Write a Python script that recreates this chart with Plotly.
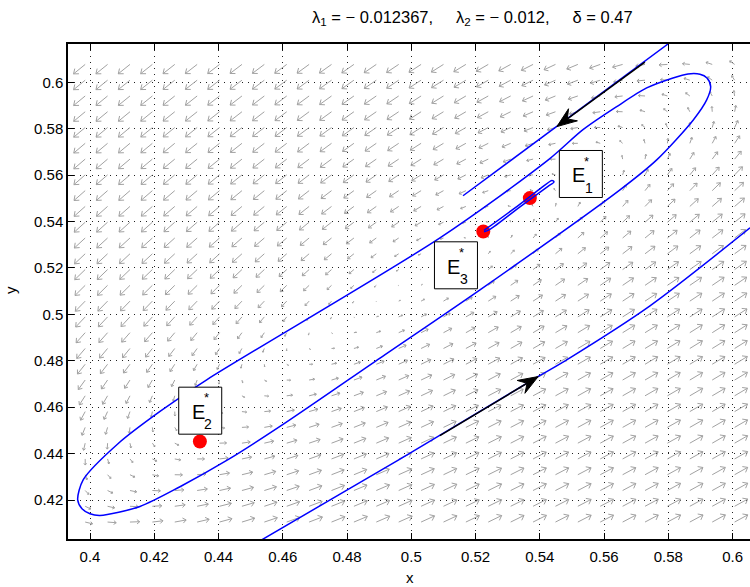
import numpy as np
import plotly.graph_objects as go

# ---- model parameters (shown in the title) ----
lambda_1 = -0.012367
lambda_2 = -0.012
delta = 0.47

# ---- equilibria ----
eq_names = ["1", "2", "3"]
eq_x = [0.5369, 0.4342, 0.5224]
eq_y = [0.5501, 0.4452, 0.5357]

# ---- trajectories ----
orbit_x = [0.39617, 0.39751, 0.40000, 0.40311, 0.41556, 0.42801, 0.44295, 0.45913,
           0.49026, 0.52138, 0.56495, 0.57638, 0.58777, 0.59194, 0.59318, 0.59203,
           0.58985, 0.58612, 0.58145, 0.57327, 0.56393, 0.55344, 0.54264, 0.50893,
           0.43632, 0.42179, 0.40871, 0.39791, 0.39617]
orbit_y = [0.42013, 0.41625, 0.41410, 0.41337, 0.41724, 0.42573, 0.43736, 0.45170,
           0.48115, 0.51057, 0.55364, 0.56656, 0.58378, 0.59240, 0.59812, 0.60187,
           0.60346, 0.60359, 0.60187, 0.59756, 0.58951, 0.57957, 0.56656, 0.53296,
           0.47181, 0.45816, 0.44425, 0.42875, 0.42013]

upper_x = [0.5161, 0.5453, 0.5799]
upper_y = [0.5511, 0.5809, 0.6165]

lower_x = [0.45353, 0.49648, 0.53953, 0.54837, 0.57429, 0.60542]
lower_y = [0.40290, 0.43766, 0.47323, 0.48042, 0.50368, 0.53727]

loop_x = [0.52263, 0.53228, 0.54006, 0.54379, 0.54441, 0.54255, 0.53383, 0.52450, 0.52263]
loop_y = [0.53619, 0.54588, 0.55406, 0.55773, 0.55708, 0.55514, 0.54631, 0.53662, 0.53555]

# direction arrows drawn on the two open trajectories (tail -> head)
flow_tail_x = [0.5089, 0.5727]
flow_tail_y = [0.4477, 0.6087]
flow_head_x = [0.5395, 0.5453]
flow_head_y = [0.4732, 0.5809]

# ---- axes ----
x_range = [0.393153, 0.60542]
y_range = [0.4032, 0.6165]
x_ticks = [0.40, 0.42, 0.44, 0.46, 0.48, 0.50, 0.52, 0.54, 0.56, 0.58, 0.60]
x_tick_text = ["0.4", "0.42", "0.44", "0.46", "0.48", "0.5", "0.52", "0.54", "0.56", "0.58", "0.6"]
y_ticks = [0.42, 0.44, 0.46, 0.48, 0.50, 0.52, 0.54, 0.56, 0.58, 0.60]
y_tick_text = ["0.42", "0.44", "0.46", "0.48", "0.5", "0.52", "0.54", "0.56", "0.58", "0.6"]

# ---- page geometry ----
W, H = 750, 587
ML, MR, MT, MB = 68, 0, 44, 48
PW, PH = W - ML - MR, H - MT - MB
PX_X = PW / (x_range[1] - x_range[0])   # pixels per x unit
PX_Y = PH / (y_range[1] - y_range[0])   # pixels per y unit


def paper_x(px):
    return (px - ML) / PW


def paper_y(py):
    return (H - MB - py) / PH


# ---- direction field of the system (quiver) ----
field_x = 0.3985 + 0.00697 * np.arange(30)
field_y = 0.4105 + 0.0068 * np.arange(30)
FIELD_CENTER = (0.495, 0.510)
FIELD_SLOPE = 0.915
K_ALONG, K_ACROSS, K_DAMP = 1.0, 0.1, 0.1


def velocity(x, y):
    n = np.hypot(1.0, FIELD_SLOPE)
    eq = np.array([1.0, FIELD_SLOPE]) / n
    ep = np.array([-FIELD_SLOPE, 1.0]) / n
    dx, dy = x - FIELD_CENTER[0], y - FIELD_CENTER[1]
    q = dx * eq[0] + dy * eq[1]
    p = dx * ep[0] + dy * ep[1]
    qdot = -K_ALONG * p
    pdot = K_ACROSS * q - K_DAMP * np.abs(p)
    return qdot * eq[0] + pdot * ep[0], qdot * eq[1] + pdot * ep[1]


ARROW_MAX = 15.0     # px
ARROW_SOFT = 95.0    # px per unit time: saturation of arrow length
HEAD_FRAC, HEAD_ANG = 0.36, np.deg2rad(38)

qx, qy = [], []
for xv in field_x:
    for yv in field_y:
        u, v = velocity(xv, yv)
        sx, sy = u * PX_X, v * PX_Y
        m = np.hypot(sx, sy)
        if m == 0:
            continue
        L = ARROW_MAX * np.tanh(m / ARROW_SOFT)
        ux, uy = sx / m, sy / m
        tx, ty = L * ux, L * uy
        hl = HEAD_FRAC * L
        pts = []
        for s in (1, -1):
            c, sn = np.cos(s * HEAD_ANG), np.sin(s * HEAD_ANG)
            bx, by = ux * c - uy * sn, ux * sn + uy * c
            pts.append((tx - hl * bx, ty - hl * by))
        for pt in [(0, 0), (tx, ty), None, pts[0], (tx, ty), pts[1], None]:
            if pt is None:
                qx.append(None)
                qy.append(None)
            else:
                qx.append(xv + pt[0] / PX_X)
                qy.append(yv + pt[1] / PX_Y)

fig = go.Figure()
fig.add_trace(go.Scatter(x=qx, y=qy, mode="lines", hoverinfo="skip",
                         line=dict(color="#a2a2a2", width=1)))
fig.add_trace(go.Scatter(x=eq_x, y=eq_y, mode="markers",
                         marker=dict(color="#ff0000", size=14, line=dict(width=0))))
for tx_, ty_, shape in [(orbit_x, orbit_y, "spline"), (upper_x, upper_y, "linear"),
                        (lower_x, lower_y, "spline"), (loop_x, loop_y, "spline")]:
    fig.add_trace(go.Scatter(x=tx_, y=ty_, mode="lines",
                             line=dict(color="#0000ff", width=1.5, shape=shape, smoothing=0.8)))

# flow direction arrows: black shaft plus a filled, notched head
HEAD_LEN, HEAD_HALF, HEAD_NOTCH = 20.0, 7.5, 13.0
for i in range(len(flow_head_x)):
    x0, y0, x1, y1 = flow_tail_x[i], flow_tail_y[i], flow_head_x[i], flow_head_y[i]
    sx, sy = (x1 - x0) * PX_X, (y1 - y0) * PX_Y
    m = np.hypot(sx, sy)
    ux, uy = sx / m, sy / m
    nx, ny = -uy, ux
    head = [(0, 0),
            (-HEAD_LEN * ux + HEAD_HALF * nx, -HEAD_LEN * uy + HEAD_HALF * ny),
            (-HEAD_NOTCH * ux, -HEAD_NOTCH * uy),
            (-HEAD_LEN * ux - HEAD_HALF * nx, -HEAD_LEN * uy - HEAD_HALF * ny),
            (0, 0)]
    fig.add_trace(go.Scatter(x=[x0, x1 - HEAD_NOTCH * ux / PX_X], y=[y0, y1 - HEAD_NOTCH * uy / PX_Y],
                             mode="lines", line=dict(color="black", width=1.5), hoverinfo="skip"))
    fig.add_trace(go.Scatter(x=[x1 + p[0] / PX_X for p in head], y=[y1 + p[1] / PX_Y for p in head],
                             mode="lines", fill="toself", fillcolor="black",
                             line=dict(color="black", width=1), hoverinfo="skip"))

annotations = []
# label boxes next to the equilibria (pixel offsets, y up)
box_centers = [(51.0, 24.1), (0.35, 30.85), (-27.3, -33.8)]
BOX_W, BOX_H = 43, 47
shapes = []
FONT = "Liberation Sans, Arial, sans-serif"
for i, name in enumerate(eq_names):
    cx, cy = box_centers[i]
    shapes.append(dict(type="rect", xref="x", yref="y", xsizemode="pixel", ysizemode="pixel",
                       xanchor=eq_x[i], yanchor=eq_y[i],
                       x0=cx - BOX_W / 2, x1=cx + BOX_W / 2, y0=cy - BOX_H / 2, y1=cy + BOX_H / 2,
                       line=dict(color="black", width=1), fillcolor="white", layer="above"))
    ex, ey = cx - 2.2, cy - 1.2
    for txt, dx, dy, size in [("E", 0, 0, 20), ("*", 8, 14, 13), (name, 10, -12.5, 14)]:
        annotations.append(dict(x=eq_x[i], y=eq_y[i], xref="x", yref="y", text=txt,
                                showarrow=False, xshift=ex + dx, yshift=ey + dy,
                                xanchor="center", yanchor="middle",
                                font=dict(family=FONT, size=size, color="black")))

NB = "\u00a0"
title_text = (f"λ<sub>1</sub> = − {abs(lambda_1):g},{NB*5}λ<sub>2</sub> = − {abs(lambda_2):g},"
              f"{NB*5}δ = {delta:g}")
annotations.append(dict(x=paper_x(472), y=paper_y(18), xref="paper", yref="paper",
                        text=title_text, showarrow=False, xanchor="center", yanchor="middle",
                        font=dict(family=FONT, size=16.5, color="black")))
annotations.append(dict(x=paper_x(410), y=paper_y(577), xref="paper", yref="paper",
                        text="x", showarrow=False, xanchor="center", yanchor="middle",
                        font=dict(family=FONT, size=15, color="black")))
annotations.append(dict(x=paper_x(10), y=paper_y(290), xref="paper", yref="paper",
                        text="y", showarrow=False, xanchor="center", yanchor="middle",
                        textangle=-90, font=dict(family=FONT, size=15, color="black")))

axis_common = dict(showline=True, linecolor="black", linewidth=1.5, ticks="inside", ticklen=6,
                   tickwidth=1, tickcolor="black", showgrid=True, gridcolor="#222222",
                   griddash="1px,5px", gridwidth=1, zeroline=False,
                   tickfont=dict(family=FONT, size=15, color="black"))

fig.update_layout(
    width=W, height=H, margin=dict(l=ML, r=MR, t=MT, b=MB),
    paper_bgcolor="white", plot_bgcolor="white", showlegend=False,
    xaxis=dict(range=x_range, tickvals=x_ticks, ticktext=x_tick_text, mirror="ticks",
               ticklabelstandoff=3, **axis_common),
    yaxis=dict(range=y_range, tickvals=y_ticks, ticktext=y_tick_text, mirror=False, **axis_common),
    shapes=shapes, annotations=annotations,
)

fig.write_html("out.html")
